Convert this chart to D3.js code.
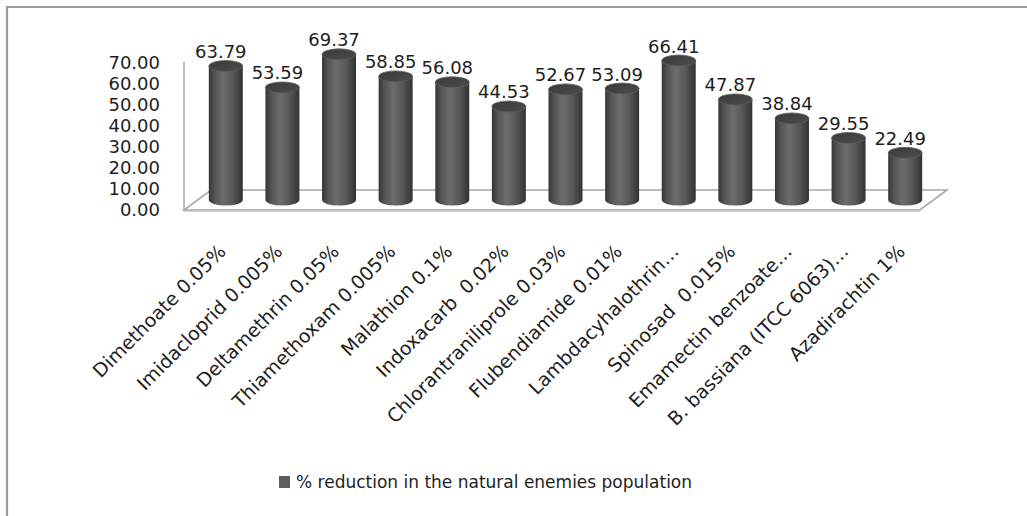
<!DOCTYPE html>
<html>
<head>
<meta charset="utf-8">
<script src="https://cdn.jsdelivr.net/npm/d3@7"></script>
<style>
  html, body { margin: 0; padding: 0; background: #fff; }
  svg { display: block; }
  text { font-family: "DejaVu Sans", sans-serif; fill: #1e1e1e; }
</style>
</head>
<body>
<svg id="chart" width="1027" height="516"></svg>
<script>
// Treatments on the category axis
const categories = [
  "Dimethoate 0.05%",
  "Imidacloprid 0.005%",
  "Deltamethrin 0.05%",
  "Thiamethoxam 0.005%",
  "Malathion 0.1%",
  "Indoxacarb  0.02%",
  "Chlorantraniliprole 0.03%",
  "Flubendiamide 0.01%",
  "Lambdacyhalothrin…",
  "Spinosad  0.015%",
  "Emamectin benzoate…",
  "B. bassiana (ITCC 6063)…",
  "Azadirachtin 1%"
];
// % reduction in the natural enemies population
const values = [63.79, 53.59, 69.37, 58.85, 56.08, 44.53, 52.67, 53.09, 66.41, 47.87, 38.84, 29.55, 22.49];
const yTicks = [0, 10, 20, 30, 40, 50, 60, 70];
const seriesName = "% reduction in the natural enemies population";

const svg = d3.select("#chart");
const fmt = d3.format(".2f");

// Front plane of the 3-D floor and the depth shift to its back edge
const x = d3.scaleBand().domain(categories).range([184, 920]).paddingInner(0).paddingOuter(0);
const y = d3.scaleLinear().domain([0, 70]).range([210, 63]);
const depth = { dx: 27, dy: -20 };
const mid = { dx: depth.dx / 2, dy: depth.dy / 2 };

// Outer frame (top and left edges)
svg.append("path")
  .attr("d", "M7,516 L7,7 L1027,7")
  .attr("fill", "none").attr("stroke", "#9a9a9a").attr("stroke-width", 2.2);

// Defs: horizontal shading for the cylinder bodies
const defs = svg.append("defs");
const body = defs.append("linearGradient").attr("id", "cylBody").attr("x1", "0").attr("x2", "1").attr("y1", "0").attr("y2", "0");
[[0, "#353535"], [0.18, "#555"], [0.42, "#6c6c6c"], [0.7, "#585858"], [1, "#323232"]]
  .forEach(([o, c]) => body.append("stop").attr("offset", o).attr("stop-color", c));
const topG = defs.append("linearGradient").attr("id", "cylTop").attr("x1", "0").attr("x2", "1").attr("y1", "0").attr("y2", "1");
[[0, "#3a3a3a"], [1, "#4c4c4c"]].forEach(([o, c]) => topG.append("stop").attr("offset", o).attr("stop-color", c));

// Floor
const x0 = x.range()[0], x1 = x.range()[1], y0 = y(0);
svg.append("path")
  .attr("d", `M${x0},${y0} L${x1},${y0} L${x1 + depth.dx},${y0 + depth.dy} L${x0 + depth.dx},${y0 + depth.dy} Z`)
  .attr("fill", "#fff").attr("stroke", "#a8a8a8").attr("stroke-width", 1.6);
// Shadow under the front edge of the floor
svg.append("line")
  .attr("x1", x0).attr("x2", x1).attr("y1", y0 + 1.5).attr("y2", y0 + 1.5)
  .attr("stroke", "#d4d4d4").attr("stroke-width", 1.2);

// Vertical value axis
svg.append("line")
  .attr("x1", x0).attr("x2", x0).attr("y1", y(70) - 1).attr("y2", y0)
  .attr("stroke", "#a8a8a8").attr("stroke-width", 1.6);

svg.append("g").selectAll("text").data(yTicks).join("text")
  .attr("x", 160).attr("y", d => y(d))
  .attr("dy", "0.36em")
  .attr("text-anchor", "end")
  .style("font-size", "18px")
  .text(d => fmt(d));

// Cylinders
const rx = x.bandwidth() * 0.3, ry = 5.5;
const bars = svg.append("g").selectAll("g").data(values).join("g");
bars.each(function (v, i) {
  const g = d3.select(this);
  const cx = x(categories[i]) + x.bandwidth() / 2 + mid.dx;
  const yb = y(0) + mid.dy, yt = y(v) + mid.dy;
  g.append("path")
    .attr("d", `M${cx - rx},${yt} L${cx - rx},${yb} A${rx},${ry} 0 0 0 ${cx + rx},${yb} L${cx + rx},${yt} Z`)
    .attr("fill", "url(#cylBody)");
  g.append("ellipse")
    .attr("cx", cx).attr("cy", yt).attr("rx", rx).attr("ry", ry)
    .attr("fill", "url(#cylTop)").attr("stroke", "#5c5c5c").attr("stroke-width", 0.8);
  g.append("text")
    .attr("x", cx - 5).attr("y", yt - 8)
    .attr("text-anchor", "middle")
    .style("font-size", "18px")
    .text(fmt(v));
});

// Category labels, rotated
svg.append("g").selectAll("text").data(categories).join("text")
  .attr("transform", d => `translate(${x(d) + x.bandwidth() / 2 + 5},243) rotate(-45)`)
  .attr("text-anchor", "end")
  .attr("dy", "0.72em")
  .style("font-size", "19px")
  .style("white-space", "pre")
  .text(d => d);

// Legend
const legend = svg.append("g").attr("transform", "translate(279,476)");
legend.append("rect").attr("width", 11).attr("height", 12).attr("fill", "#5e5e5e");
legend.append("text").attr("x", 17).attr("y", 12)
  .style("font-size", "17px")
  .text(seriesName);
</script>
</body>
</html>
